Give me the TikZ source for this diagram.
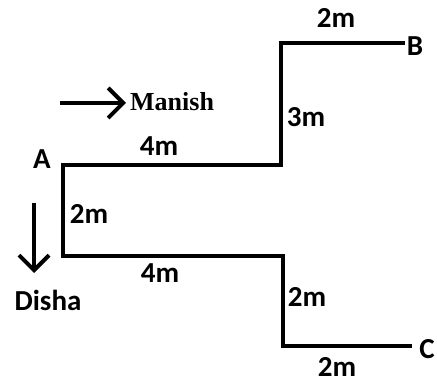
\documentclass[tikz,border=0pt]{standalone}
\usepackage{fontspec}
\setmainfont{Carlito}
\newfontfamily\manfont{Liberation Serif}
\usetikzlibrary{arrows.meta}
\tikzset{
 lbl/.style={font=\fontsize{29}{31}\selectfont\bfseries, inner sep=0pt},
 walk/.style={line width=4pt, line cap=rect},
 dir/.style={-{Straight Barb[length=15pt, width=30pt, line width=4pt]}, line width=3.5pt}
}
\begin{document}
\begin{tikzpicture}[x=1pt, y=-1pt]
 \useasboundingbox (0, 0) rectangle (437, 385);
 \coordinate (A) at (63, 165);
 \coordinate (P) at (281, 165);
 \coordinate (Q) at (281, 43);
 \coordinate (B) at (403, 43);
 \coordinate (R) at (63, 256);
 \coordinate (S) at (283, 256);
 \coordinate (T) at (283, 346);
 \coordinate (C) at (410, 346);
 \draw[walk] (Q) -- (P) -- (A) -- (R) -- (S) -- (T) -- (C);
 \draw[walk] (Q) -- (B);
 \node[lbl] (labA) at (42, 159) {A};
 \node[lbl] (labB) at (415, 46) {B};
 \node[lbl] (labC) at (427, 349) {C};
 \node[lbl] (dAP) at (159, 146) {4m};
 \node[lbl] (dPQ) at (306, 117) {3m};
 \node[lbl] (dQB) at (336, 18) {2m};
 \node[lbl] (dAR) at (89, 214) {2m};
 \node[lbl] (dRS) at (160, 273) {4m};
 \node[lbl] (dST) at (307, 297) {2m};
 \node[lbl] (dTC) at (337, 367) {2m};
 % directions
 \coordinate (m0) at (60, 103);
 \coordinate (m1) at (126, 103);
 \draw[dir] (m0) -- (m1);
 \node[lbl, font=\manfont\fontsize{26}{28}\selectfont\bfseries, anchor=west] (man) at (130, 102) {Manish};
 \coordinate (d0) at (34, 203);
 \coordinate (d1) at (34, 273);
 \draw[dir] (d0) -- (d1);
 \node[lbl] (dis) at (48, 300) {Disha};
\end{tikzpicture}
\end{document}
